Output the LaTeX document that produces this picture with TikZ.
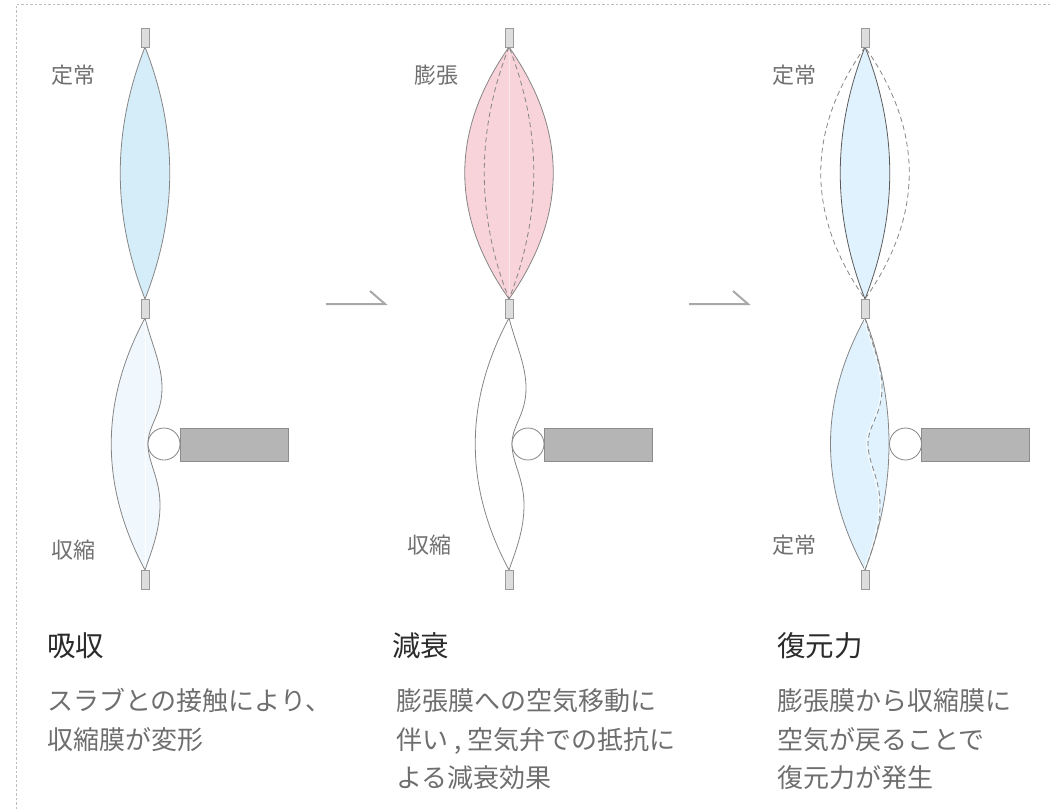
\documentclass[tikz,border=0pt]{standalone}
\usepackage{fontspec}
\setmainfont{Noto Sans CJK JP}
\definecolor{framegray}{HTML}{BDBDBD}
\definecolor{linegray}{HTML}{858585}
\definecolor{darkline}{HTML}{5A5A5A}
\definecolor{valvefill}{HTML}{DDDDDD}
\definecolor{valveedge}{HTML}{9A9A9A}
\definecolor{blueA}{HTML}{D4EDF9}
\definecolor{blueB}{HTML}{F0F8FE}
\definecolor{blueC}{HTML}{E0F2FD}
\definecolor{pinkA}{HTML}{F9D3DA}
\definecolor{seam}{HTML}{FBE6EA}
\definecolor{slabgray}{HTML}{B5B5B5}
\definecolor{slabedge}{HTML}{8C8C8C}
\definecolor{arrowgray}{HTML}{A8A8A8}
\definecolor{labelgray}{HTML}{707070}
\definecolor{titlegray}{HTML}{2B2B2B}
\definecolor{bodygray}{HTML}{6E6E6E}
\tikzset{
  membrane/.style={draw=linegray, line width=0.8pt},
  valve/.style={draw=valveedge, fill=valvefill, line width=0.6pt},
  ghost/.style={draw=linegray, dash pattern=on 5pt off 3.5pt, line width=0.8pt},
  roller/.style={draw=linegray, fill=white, line width=0.8pt},
  slab/.style={draw=slabedge, fill=slabgray, line width=0.8pt},
  flowarrow/.style={draw=arrowgray, line width=2pt},
  statelabel/.style={font=\fontsize{22}{22}\selectfont, text=labelgray, anchor=base west, inner sep=0pt},
  headline/.style={font=\fontsize{28.5}{28.5}\selectfont, text=titlegray, anchor=base west, inner sep=0pt},
  bodyline/.style={font=\fontsize{26}{26}\selectfont, text=bodygray, anchor=base west, inner sep=0pt},
}
\begin{document}
\begin{tikzpicture}[x=1pt,y=-1pt]
\useasboundingbox (0,0) rectangle (1051,809);
% dotted frame
\draw[framegray, line width=0.8pt, dash pattern=on 2.5pt off 2pt] (16,809) -- (16,4.5) -- (1051,4.5);

% ---------- stage 1: absorption ----------
\begin{scope}[shift={(145,0)}]
  \filldraw[membrane, fill=blueA] (0,47) .. controls (-33,131) and (-33,215) .. (0,299)
      .. controls (33,215) and (33,131) .. (0,47) -- cycle;
  \filldraw[membrane, fill=blueB] (0,318) .. controls (-45,402) and (-45,486) .. (0,570)
      .. controls (7,550) and (15,530) .. (15,505)
      .. controls (15,478) and (3,463) .. (3,444)
      .. controls (3,425) and (17,415) .. (17,388)
      .. controls (17,365) and (7,345) .. (0,318) -- cycle;
  \draw[white, line width=0.4pt] (0,322) -- (0,566);
  \draw[roller] (19,444) circle (16);
  \filldraw[slab] (35,428) rectangle (143,461);
  \filldraw[valve] (-4,28) rectangle (4,47);
  \filldraw[valve] (-4,299) rectangle (4,318);
  \filldraw[valve] (-4,570) rectangle (4,589);
\end{scope}

% ---------- stage 2: damping ----------
\begin{scope}[shift={(509,0)}]
  \filldraw[membrane, fill=pinkA] (0,47) .. controls (-59,131) and (-59,215) .. (0,299)
      .. controls (59,215) and (59,131) .. (0,47) -- cycle;
  \draw[seam, line width=0.5pt] (0,50) -- (0,296);
  \draw[ghost] (0,47) .. controls (-33,131) and (-33,215) .. (0,299)
      .. controls (33,215) and (33,131) .. (0,47);
  \draw[membrane] (0,318) .. controls (-45,402) and (-45,486) .. (0,570)
      .. controls (7,550) and (15,530) .. (15,505)
      .. controls (15,478) and (3,463) .. (3,444)
      .. controls (3,425) and (17,415) .. (17,388)
      .. controls (17,365) and (7,345) .. (0,318) -- cycle;
  \draw[roller] (19,444) circle (16);
  \filldraw[slab] (35,428) rectangle (143,461);
  \filldraw[valve] (-4,28) rectangle (4,47);
  \filldraw[valve] (-4,299) rectangle (4,318);
  \filldraw[valve] (-4,570) rectangle (4,589);
\end{scope}

% ---------- stage 3: restoring force ----------
\begin{scope}[shift={(865,0)}]
  \filldraw[draw=darkline, line width=0.8pt, fill=blueC] (0,47) .. controls (-33,131) and (-33,215) .. (0,299)
      .. controls (33,215) and (33,131) .. (0,47) -- cycle;
  \draw[ghost] (0,47) .. controls (-59,131) and (-59,215) .. (0,299)
      .. controls (59,215) and (59,131) .. (0,47);
  \filldraw[membrane, fill=blueC] (0,318) .. controls (-46,402) and (-46,486) .. (0,570)
      .. controls (32,486) and (32,402) .. (0,318) -- cycle;
  \draw[white, line width=0.7pt, xshift=-1.3pt] (0,318)
      .. controls (7,345) and (17,365) .. (17,388)
      .. controls (17,415) and (3,425) .. (3,444)
      .. controls (3,463) and (15,478) .. (15,505)
      .. controls (15,530) and (7,550) .. (0,570);
  \draw[ghost] (0,318)
      .. controls (7,345) and (17,365) .. (17,388)
      .. controls (17,415) and (3,425) .. (3,444)
      .. controls (3,463) and (15,478) .. (15,505)
      .. controls (15,530) and (7,550) .. (0,570);
  \draw[roller] (40.5,444) circle (16);
  \filldraw[slab] (56.5,428) rectangle (164.5,461);
  \filldraw[valve] (-4,28) rectangle (4,47);
  \filldraw[valve] (-4,299) rectangle (4,318);
  \filldraw[valve] (-4,570) rectangle (4,589);
\end{scope}

% ---------- transition arrows ----------
\coordinate (a1s) at (326,304);
\coordinate (a1e) at (385,304);
\coordinate (a1h) at (370,291);
\coordinate (a2s) at (689,304);
\coordinate (a2e) at (748,304);
\coordinate (a2h) at (733,291);
\draw[flowarrow] (a1s) -- (a1e) -- (a1h);
\draw[flowarrow] (a2s) -- (a2e) -- (a2h);

% ---------- state labels ----------
\node[statelabel] (s1top) at (51,83.5) {定常};
\node[statelabel] (s1bot) at (51,558) {収縮};
\node[statelabel] (s2top) at (414,83.5) {膨張};
\node[statelabel] (s2bot) at (407,553) {収縮};
\node[statelabel] (s3top) at (772,83.5) {定常};
\node[statelabel] (s3bot) at (772,553) {定常};

% ---------- captions ----------
\node[headline] (h1) at (47,656) {吸収};
\node[headline] (h2) at (392,656) {減衰};
\node[headline] (h3) at (777,656) {復元力};

\node[bodyline] (b1a) at (47,710) {スラブとの接触により、};
\node[bodyline] (b1b) at (47,749) {収縮膜が変形};
\node[bodyline] (b2a) at (396,710) {膨張膜への空気移動に};
\node[bodyline] (b2b) at (396,749) {伴い , 空気弁での抵抗に};
\node[bodyline] (b2c) at (396,787) {よる減衰効果};
\node[bodyline] (b3a) at (777,710) {膨張膜から収縮膜に};
\node[bodyline] (b3b) at (777,749) {空気が戻ることで};
\node[bodyline] (b3c) at (777,787) {復元力が発生};
\end{tikzpicture}
\end{document}
